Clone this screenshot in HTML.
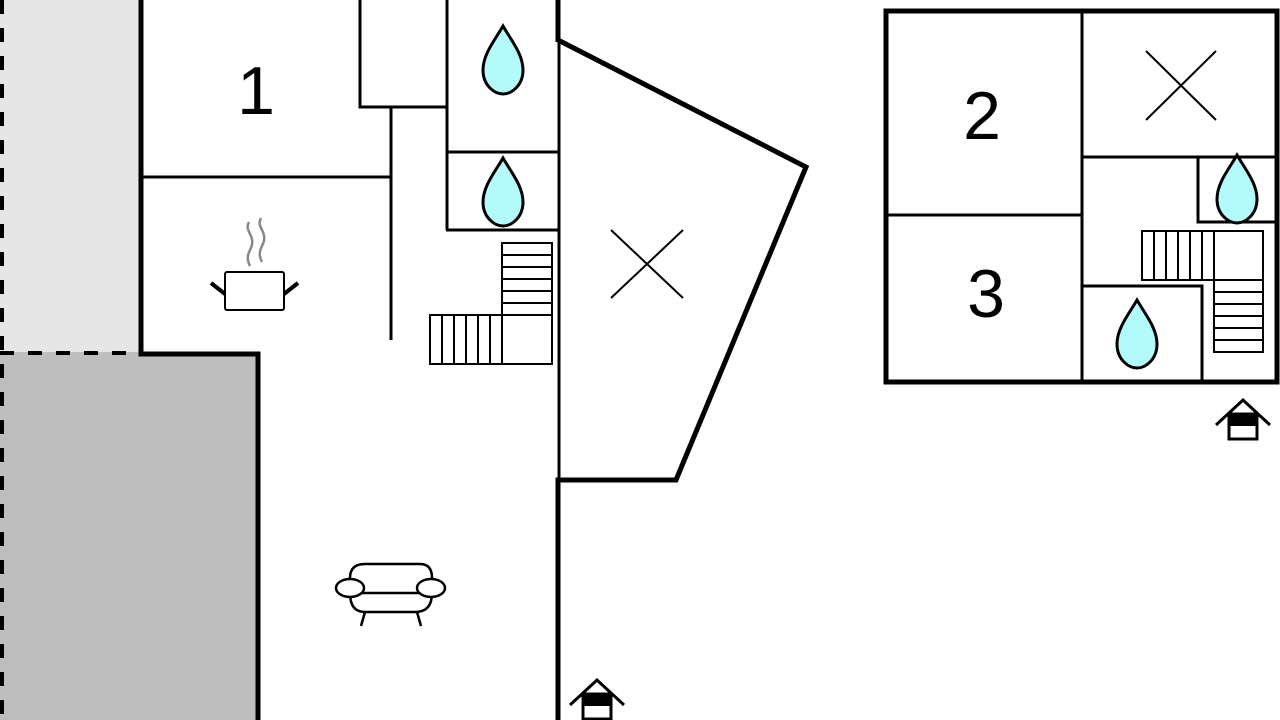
<!DOCTYPE html>
<html><head><style>html,body{margin:0;padding:0;background:#fff;}svg{display:block}</style></head>
<body>
<svg width="1280" height="720" viewBox="0 0 1280 720" xmlns="http://www.w3.org/2000/svg">
<defs>
<g id="drop"><path d="M0,-36 C-8,-22 -20,-8 -20,8 C-20,24 -8,32 0,32 C8,32 20,24 20,8 C20,-8 8,-22 0,-36 Z" fill="#b3fbfb" stroke="#000" stroke-width="3"/></g>
<g id="house"><polyline points="-27,13 0,-12 27,13" fill="none" stroke="#000" stroke-width="3"/><rect x="-14" y="2" width="28" height="25" fill="#fff" stroke="#000" stroke-width="3"/><rect x="-14" y="2" width="28" height="12" fill="#000"/></g>
</defs>
<rect x="0" y="0" width="140" height="352" fill="#e6e6e6"/>
<rect x="0" y="352" width="258" height="368" fill="#bebebe"/>
<line x1="2" y1="0" x2="2" y2="720" stroke="#000" stroke-width="4" stroke-dasharray="14 14"/>
<line x1="0" y1="353" x2="140" y2="353" stroke="#000" stroke-width="4" stroke-dasharray="14 14"/>
<polyline points="141,0 141,354 258,354 258,720" fill="none" stroke="#000" stroke-width="5"/>
<line x1="558" y1="0" x2="558" y2="42" stroke="#000" stroke-width="5"/>
<line x1="559" y1="40" x2="559" y2="480" stroke="#000" stroke-width="3"/>
<polyline points="558,40 806,167 676,480 558,480 558,720" fill="none" stroke="#000" stroke-width="5"/>
<g fill="none" stroke="#000" stroke-width="3">
<line x1="141" y1="177" x2="391" y2="177"/>
<line x1="391" y1="108" x2="391" y2="340"/>
<polyline points="360,0 360,107 446,107"/>
<line x1="447" y1="0" x2="447" y2="230"/>
<line x1="446" y1="152" x2="558" y2="152"/>
<line x1="446" y1="230" x2="558" y2="230"/>
<line x1="611" y1="230" x2="683" y2="298" stroke-width="2"/>
<line x1="683" y1="230" x2="611" y2="298" stroke-width="2"/>
</g>
<g fill="none" stroke="#000" stroke-width="2">
<rect x="502" y="243" width="50" height="121"/>
<line x1="502" y1="255" x2="552" y2="255"/><line x1="502" y1="267" x2="552" y2="267"/><line x1="502" y1="279" x2="552" y2="279"/><line x1="502" y1="291" x2="552" y2="291"/><line x1="502" y1="303" x2="552" y2="303"/><line x1="502" y1="315" x2="552" y2="315"/>
<rect x="430" y="315" width="72" height="49"/>
<line x1="442" y1="315" x2="442" y2="364"/><line x1="454" y1="315" x2="454" y2="364"/><line x1="466" y1="315" x2="466" y2="364"/><line x1="478" y1="315" x2="478" y2="364"/><line x1="490" y1="315" x2="490" y2="364"/>
</g>
<use href="#drop" x="503" y="62"/>
<use href="#drop" x="503" y="194"/>
<text x="256" y="114" font-family="Liberation Sans, sans-serif" font-size="68" text-anchor="middle">1</text>
<g stroke="#000" stroke-width="2" fill="#fff">
<path d="M250,266 c-3,-6 -3,-10 0,-16 c3,-6 3,-10 0,-16 c-3,-6 -3,-8 -1,-12" stroke="#888" stroke-width="2.5" fill="none"/>
<path d="M262,262 c-3,-6 -3,-10 0,-16 c3,-6 3,-10 0,-16 c-3,-6 -3,-8 -1,-12" stroke="#888" stroke-width="2.5" fill="none"/>
<rect x="225" y="272" width="59" height="38" rx="2"/>
<line x1="211" y1="283" x2="225" y2="294" stroke-width="4"/>
<line x1="298" y1="283" x2="284" y2="294" stroke-width="4"/>
</g>
<g stroke="#000" stroke-width="2.5" fill="#fff">
<path d="M350,593 L350,578 Q350,564 365,564 L420,564 Q432,564 432,578 L432,593 Q432,612 415,612 L365,612 Q350,612 350,593 Z"/>
<line x1="360" y1="593" x2="420" y2="593"/>
<ellipse cx="350" cy="588" rx="14" ry="9"/>
<ellipse cx="431" cy="588" rx="14" ry="9"/>
<line x1="365" y1="612" x2="361" y2="626"/><line x1="417" y1="612" x2="421" y2="626"/>
</g>
<use href="#house" x="597" y="692"/>
<rect x="886" y="11" width="391" height="371" fill="none" stroke="#000" stroke-width="5"/>
<g fill="none" stroke="#000" stroke-width="3">
<line x1="1082" y1="11" x2="1082" y2="382"/>
<line x1="886" y1="215" x2="1082" y2="215"/>
<line x1="1082" y1="157" x2="1277" y2="157"/>
<polyline points="1198,157 1198,222 1277,222"/>
<polyline points="1082,286 1202,286 1202,382"/>
<line x1="1146" y1="51" x2="1216" y2="120" stroke-width="2"/>
<line x1="1216" y1="51" x2="1146" y2="120" stroke-width="2"/>
</g>
<g fill="none" stroke="#000" stroke-width="2">
<rect x="1142" y="231" width="121" height="49"/>
<line x1="1154" y1="231" x2="1154" y2="280"/><line x1="1166" y1="231" x2="1166" y2="280"/><line x1="1178" y1="231" x2="1178" y2="280"/><line x1="1190" y1="231" x2="1190" y2="280"/><line x1="1202" y1="231" x2="1202" y2="280"/><line x1="1214" y1="231" x2="1214" y2="280"/>
<rect x="1214" y="280" width="49" height="72"/>
<line x1="1214" y1="292" x2="1263" y2="292"/><line x1="1214" y1="304" x2="1263" y2="304"/><line x1="1214" y1="316" x2="1263" y2="316"/><line x1="1214" y1="328" x2="1263" y2="328"/><line x1="1214" y1="340" x2="1263" y2="340"/>
</g>
<use href="#drop" x="1237" y="191"/>
<use href="#drop" x="1137" y="336"/>
<text x="982" y="139" font-family="Liberation Sans, sans-serif" font-size="68" text-anchor="middle">2</text>
<text x="986" y="317" font-family="Liberation Sans, sans-serif" font-size="68" text-anchor="middle">3</text>
<use href="#house" x="1243" y="412"/>
</svg>
</body></html>
